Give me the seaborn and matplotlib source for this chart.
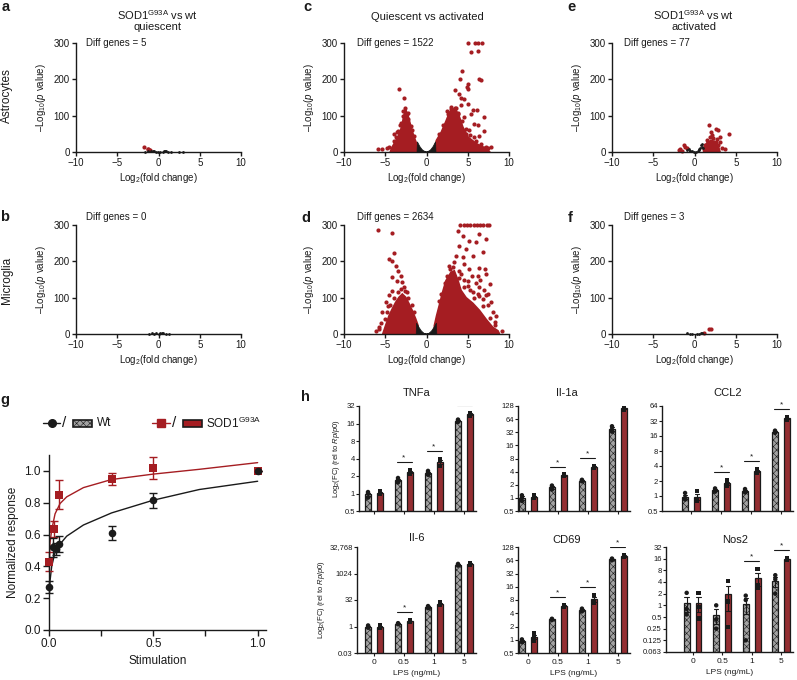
import numpy as np
import pandas as pd
import matplotlib
import matplotlib.pyplot as plt
import seaborn as sns
from matplotlib.lines import Line2D
from matplotlib.patches import Rectangle
from matplotlib.ticker import NullLocator

matplotlib.use('Agg')

# ---------------- volcano data ----------------
# a: astrocytes, SOD1 vs wt, quiescent
a_red_x = [-1.8, -1.25, -1.15, -1.05, -1.3]
a_red_y = [13, 7, 6, 5, 8]
a_blk_x = [-1.6, -1.3, -0.9, -0.7, -0.5, -0.3, -0.1, 0.2, 0.5, 0.7, 0.8, 0.9, 1.1, 1.5, 2.5, 3.0]
a_blk_y = [0.5, 2, 3, 2, 1.5, 1, 0.5, 0.5, 1, 2, 3, 2.5, 1, 0.5, 0.3, 0.2]

# b: microglia, SOD1 vs wt, quiescent
b_blk_x = [-1.2, -0.8, -0.6, -0.3, 0.0, 0.2, 0.4, 0.6, 0.9, 1.3]
b_blk_y = [0.5, 2, 1, 1.5, 1, 3, 4, 2, 1, 0.5]

# c: astrocytes, quiescent vs activated
c_lcore_x = [-4.4, -4.2, -3.8, -3.4, -3.0, -2.75, -2.55, -2.3, -2.0, -1.7, -1.4, -1.1, -1.0, -1.0]
c_lcore_y = [0, 12, 28, 45, 70, 100, 118, 105, 80, 55, 35, 18, 8, 0]
c_rcore_x = [1.0, 1.0, 1.2, 1.8, 2.4, 2.8, 3.2, 3.6, 4.0, 4.4, 5.05, 6.06, 7.27, 7.7]
c_rcore_y = [0, 12, 32, 55, 87, 110, 119, 115, 96, 69, 41, 23, 9, 0]
c_v_x = [-1.15, -1.1, -0.8, -0.5, -0.2, 0.0, 0.2, 0.5, 0.8, 1.1, 1.15]
c_v_y = [0, 28, 15, 6, 1.5, 0, 1.5, 6, 15, 28, 0]
c_red_x = [-3.35, -2.75, -2.6, -2.85, -2.4, -3.96, -4.6, -5.4, -5.86, -3.5, -1.9, -2.2, -3.1, -3.7,
           -3.2, -3.6, -4.0, -2.9, -2.2, -1.8, -1.5, -4.8,
           5.05, 5.86, 6.26, 6.67, 5.45, 6.26, 4.36, 4.04, 6.34, 6.59, 5.05, 4.85, 4.97, 3.43, 3.92,
           4.2, 4.6, 4.2, 5.0, 3.6, 5.6, 6.1, 5.4, 7.0, 4.5, 5.8, 6.3, 7.0, 5.2, 4.8, 6.4, 5.7,
           7.5, 7.8, 7.0, 3.0, 2.5, 3.8,
           2.0, 2.6, 3.0, 3.4, 3.8, 4.3, 4.8, 5.3, 6.0, 6.6, 7.2, 1.5]
c_red_y = [174, 149, 122, 112, 104, 49, 14, 9, 7, 58, 72, 108, 80, 40,
           75, 55, 30, 100, 90, 60, 45, 10,
           300, 300, 300, 300, 275, 278, 222, 202, 200, 197, 188, 179, 174, 170, 160,
           150, 146, 128, 132, 120, 115, 115, 105, 97, 95, 78, 75, 57, 60, 50, 45, 40,
           12, 14, 10, 125, 112, 105,
           75, 105, 118, 122, 108, 85, 62, 48, 30, 22, 15, 50]

# d: microglia, quiescent vs activated
d_lcore_x = [-5.3, -4.96, -4.55, -4.15, -3.74, -3.33, -2.93, -2.52, -2.11, -1.71, -1.3, -1.02, -1.0]
d_lcore_y = [0, 23, 50, 69, 87, 101, 110, 101, 83, 64, 41, 23, 0]
d_rcore_x = [0.95, 0.95, 1.22, 1.54, 1.95, 2.36, 2.97, 3.37, 3.78, 4.19, 4.8, 5.6, 6.42, 7.24, 8.05, 8.66, 8.86]
d_rcore_y = [0, 23, 50, 78, 115, 147, 170, 174, 150, 120, 100, 85, 65, 40, 18, 9, 0]
d_v_x = [-1.25, -1.2, -0.9, -0.6, -0.3, 0.0, 0.3, 0.6, 0.9, 1.2, 1.25]
d_v_y = [0, 30, 18, 8, 2, 0, 2, 8, 18, 30, 0]
d_red_x = [-5.85, -4.15, -3.94, -4.55, -4.15, -3.74, -3.41, -3.13, -4.23, -3.54, -2.93, -4.55,
           -4.96, -5.37, -4.15, -2.72, -2.32, -5.77, -6.18, -4.63,
           -5.0, -4.8, -4.4, -3.9, -3.5, -3.1, -2.6, -2.2, -1.8, -1.5, -5.5, -5.8,
           4.1, 4.5, 4.9, 5.3, 5.7, 6.1, 6.5, 6.9, 7.3, 7.6,
           3.78, 4.39, 6.42, 7.24, 5.2, 3.98, 6.02, 4.8, 6.83, 4.39, 5.61, 3.37, 6.42, 7.11,
           5.2, 3.98, 6.22, 7.24, 2.76, 7.64, 5.0, 6.42, 5.61, 7.24, 7.85, 6.83, 8.46, 8.25,
           9.19, 6.4, 3.58, 4.6,
           4.5, 5.0, 5.5, 6.0, 6.5, 7.0, 7.5, 4.2, 3.9, 5.3, 6.2, 6.8, 7.4, 8.0, 7.7, 8.3,
           5.8, 4.6, 3.2, 2.8, 2.5, 2.2, 1.8, 1.5]
d_red_y = [285, 278, 223, 206, 202, 188, 174, 161, 156, 147, 142, 106,
           87, 60, 119, 128, 115, 14, 9, 78,
           40, 60, 80, 100, 115, 125, 118, 100, 80, 60, 30, 20,
           300, 300, 300, 300, 300, 300, 300, 300, 300, 300,
           284, 271, 275, 261, 257, 243, 252, 234, 225, 211, 216, 197, 183, 179,
           179, 174, 161, 165, 188, 138, 133, 128, 115, 106, 87, 78, 50, 32,
           9, 105, 216, 193,
           150, 145, 160, 140, 150, 120, 110, 165, 155, 120, 110, 95, 80, 60, 45, 25,
           100, 130, 185, 178, 160, 140, 110, 90]

# e: astrocytes, SOD1 vs wt, activated
e_core_x = [1.1, 1.2, 1.5, 1.9, 2.4, 2.8, 3.0, 3.1]
e_core_y = [0, 15, 25, 30, 30, 22, 8, 0]
e_red_x = [1.74, 2.55, 2.87, 4.24, 1.94, 2.14, 3.07, 3.15, 3.64, 2.7, 2.3, 1.5, 1.3, 1.6, 2.0,
           2.4, 2.9, 1.8, 2.2, 1.2, 1.4, 3.3, -1.1, -1.3, -1.7, -1.9, -0.9, -1.5, 2.6, 1.9]
e_red_y = [75, 64, 60, 50, 55, 46, 41, 28, 7, 35, 38, 32, 20, 25, 30,
           22, 18, 12, 15, 8, 5, 12, 14, 18, 7, 5, 10, 4, 28, 40]
e_blk_x = [-0.9, -0.7, -0.5, -0.3, -0.1, 0.2, 0.4, 0.6, 0.7, 0.8, 0.9, 1.0, 0.5, 0.85, -0.6]
e_blk_y = [5, 8, 4, 2, 0.5, 1, 4, 8, 12, 18, 22, 10, 6, 14, 3]

# f: microglia, SOD1 vs wt, activated
f_red_x = [1.7, 1.95, 1.1]
f_red_y = [14, 13, 4]
f_blk_x = [-0.9, -0.6, -0.3, 0.3, 0.6, 0.9, 0.8]
f_blk_y = [2, 1, 0.5, 0.5, 1, 3, 2]

# ---------------- panel g data ----------------
g_x_wt = [0, 0.02, 0.035, 0.05, 0.3, 0.5, 1.0]
g_y_wt = [0.27, 0.52, 0.51, 0.54, 0.61, 0.815, 1.0]
g_err_wt = [0.035, 0.06, 0.04, 0.05, 0.045, 0.045, 0.0]
g_x_sod = [0, 0.025, 0.05, 0.3, 0.5, 1.0]
g_y_sod = [0.43, 0.635, 0.85, 0.95, 1.02, 1.0]
g_err_sod = [0.06, 0.05, 0.09, 0.04, 0.07, 0.0]
fit_x = [0.001, 0.005, 0.013, 0.029, 0.053, 0.085, 0.165, 0.3, 0.5, 0.72, 1.0]
fit_sod = [0.42, 0.55, 0.63, 0.73, 0.795, 0.837, 0.895, 0.946, 0.98, 1.01, 1.052]
fit_wt = [0.22, 0.31, 0.40, 0.49, 0.54, 0.59, 0.66, 0.736, 0.816, 0.883, 0.935]

# ---------------- panel h data (3 replicates per LPS dose) ----------------
LPS = ['0', '0.5', '1', '5']
GENO = ['Wt', 'SOD1']
tnfa_wt = [[0.85, 1.0, 1.06], [1.55, 1.7, 1.85], [2.1, 2.3, 2.45], [17, 18, 18.7]]
tnfa_sod = [[0.98, 1.04, 1.1], [2.2, 2.4, 2.55], [3.0, 3.6, 3.9], [21.5, 23, 24.5]]
il1a_wt = [[0.85, 1.0, 1.15], [1.55, 1.75, 1.92], [2.4, 2.5, 2.6], [33, 37, 44]]
il1a_sod = [[1.0, 1.05, 1.13], [3.2, 3.3, 3.4], [5.0, 5.2, 5.4], [105, 113, 121]]
ccl2_wt = [[0.85, 0.92, 1.15], [1.22, 1.32, 1.42], [1.18, 1.28, 1.38], [18.5, 19.5, 20.5]]
ccl2_sod = [[0.8, 0.88, 1.25], [1.6, 1.75, 2.05], [2.9, 3.2, 3.5], [34, 36, 38]]
il6_wt = [[0.85, 1.0, 1.15], [1.35, 1.45, 1.55], [11, 12.8, 14.5], [2900, 3250, 3600]]
il6_sod = [[0.85, 1.0, 1.15], [1.9, 2.05, 2.2], [17, 20, 23], [3400, 3700, 4000]]
cd69_wt = [[0.88, 0.95, 1.02], [2.8, 2.9, 3.0], [4.4, 4.8, 5.1], [64, 67, 70]]
cd69_sod = [[0.95, 1.1, 1.4], [5.6, 5.9, 6.2], [6.9, 7.6, 10.4], [76, 80, 84]]
nos2_wt = [[2.1, 0.58, 0.8], [1.0, 0.43, 0.25], [1.78, 1.37, 0.125], [6.0, 4.7, 2.0]]
nos2_sod = [[2.1, 0.92, 0.46], [4.3, 1.24, 0.28], [8.6, 3.4, 2.9], [15.6, 15, 16.5]]
tnfa_sig = [False, True, True, True]
il1a_sig = [False, True, True, True]
ccl2_sig = [False, True, True, True]
il6_sig = [False, True, False, False]
cd69_sig = [False, True, True, True]
nos2_sig = [False, False, True, True]

# ---------------- style ----------------
sns.set_theme(style='ticks', rc={'axes.edgecolor': 'k', 'xtick.color': 'k', 'ytick.color': 'k',
                                 'text.color': 'k', 'axes.labelcolor': 'k'})
plt.rcParams['font.family'] = ['Liberation Sans', 'DejaVu Sans']
plt.rcParams.update({'mathtext.fontset': 'custom', 'mathtext.rm': 'Liberation Sans',
                     'mathtext.it': 'Liberation Sans:italic', 'mathtext.default': 'regular',
                     'axes.linewidth': 1.0, 'xtick.major.width': 1.0, 'ytick.major.width': 1.0,
                     'hatch.linewidth': 0.4})

RED = '#a51d22'
GRAY = '#a3a3a3'
W, H = 797, 680
fig = plt.figure(figsize=(7.97, 6.8), dpi=100)


def px_axes(left, top, right, bottom):
    return fig.add_axes([left / W, 1 - bottom / H, (right - left) / W, (bottom - top) / H])


def ftext(x, y, s, **kw):
    return fig.text(x / W, 1 - y / H, s, **kw)


def volcano(left, top, n_diff, red_x=(), red_y=(), blk_x=(), blk_y=(), cores=(), vshape=None,
            text_x=0.06, text_y=1.0):
    ax = px_axes(left, top, left + 165, top + 109)
    for cx, cy in cores:
        ax.fill(cx, cy, color=RED, lw=1.2, zorder=1)
    if len(red_x):
        sns.scatterplot(x=list(red_x), y=list(red_y), color=RED, s=9, linewidth=0, ax=ax,
                        clip_on=False, zorder=2)
    if vshape is not None:
        ax.fill(vshape[0], vshape[1], color='k', lw=0.5, zorder=3)
    if len(blk_x):
        sns.scatterplot(x=list(blk_x), y=list(blk_y), color='k', s=4, linewidth=0, ax=ax,
                        clip_on=False, zorder=3)
    ax.set_xlim(-10, 10)
    ax.set_ylim(0, 300)
    ax.set_xticks([-10, -5, 0, 5, 10])
    ax.set_yticks([0, 100, 200, 300])
    ax.tick_params(labelsize=7, length=3, pad=1.5)
    ax.set_xlabel('Log$_2$(fold change)', fontsize=7, labelpad=2)
    ax.set_ylabel('\u2013Log$_{10}$($\\it{p}$ value)', fontsize=7, labelpad=4)
    sns.despine(ax=ax)
    ax.text(text_x, text_y, f'Diff genes = {n_diff}', transform=ax.transAxes, fontsize=7,
            va='center', ha='left')
    return ax


# ---------------- volcano panels ----------------
volcano(76, 43, 5, a_red_x, a_red_y, a_blk_x, a_blk_y)
volcano(344, 43, 1522, c_red_x, c_red_y, cores=[(c_lcore_x, c_lcore_y), (c_rcore_x, c_rcore_y)],
        vshape=(c_v_x, c_v_y), text_x=0.08)
volcano(612, 43, 77, e_red_x, e_red_y, e_blk_x, e_blk_y, cores=[(e_core_x, e_core_y)], text_x=0.07)
volcano(76, 225, 0, blk_x=b_blk_x, blk_y=b_blk_y, text_y=1.07)
volcano(344, 225, 2634, d_red_x, d_red_y, cores=[(d_lcore_x, d_lcore_y), (d_rcore_x, d_rcore_y)],
        vshape=(d_v_x, d_v_y), text_x=0.08, text_y=1.07)
volcano(612, 225, 3, f_red_x, f_red_y, f_blk_x, f_blk_y, text_x=0.07, text_y=1.07)

ftext(158, 20, 'SOD1$^{G93A}$ vs wt\nquiescent', fontsize=8, ha='center', va='center', linespacing=1.1)
ftext(427, 17, 'Quiescent vs activated', fontsize=8, ha='center', va='center')
ftext(694, 20, 'SOD1$^{G93A}$ vs wt\nactivated', fontsize=8, ha='center', va='center', linespacing=1.1)
ftext(7, 96, 'Astrocytes', fontsize=8.5, rotation=90, ha='center', va='center')
ftext(7, 280, 'Microglia', fontsize=8.5, rotation=90, ha='center', va='center')

for lab, (x, y) in {'a': (6, 7), 'b': (5, 217), 'c': (307, 7), 'd': (306, 218), 'e': (571, 7),
                    'f': (570, 218), 'g': (5, 400), 'h': (305, 397)}.items():
    ftext(x, y, lab, fontsize=10.5, fontweight='bold', ha='center', va='center')

# ---------------- panel g ----------------
axg = px_axes(49, 455, 266, 630)
sns.lineplot(x=fit_x, y=fit_sod, color=RED, lw=1, ax=axg)
sns.lineplot(x=fit_x, y=fit_wt, color='k', lw=1, ax=axg)
axg.errorbar(g_x_sod, g_y_sod, yerr=g_err_sod, fmt='none', ecolor=RED, elinewidth=1, capsize=3,
             capthick=1, clip_on=False)
axg.errorbar(g_x_wt, g_y_wt, yerr=g_err_wt, fmt='none', ecolor='k', elinewidth=1, capsize=3,
             capthick=1, clip_on=False)
sns.scatterplot(x=g_x_sod, y=g_y_sod, marker='s', color=RED, s=30, linewidth=0, ax=axg,
                clip_on=False, zorder=5)
sns.scatterplot(x=g_x_wt, y=g_y_wt, marker='o', color='k', s=30, linewidth=0, ax=axg,
                clip_on=False, zorder=6)
axg.set_xlim(0, 1.04)
axg.set_ylim(0, 1.1)
axg.set_xticks([0, 0.5, 1.0])
axg.set_xticklabels(['0.0', '0.5', '1.0'])
axg.set_xticks([0.25, 0.75], minor=True)
axg.set_yticks([0, 0.2, 0.4, 0.6, 0.8, 1.0])
axg.set_yticklabels(['0.0', '0.2', '0.4', '0.6', '0.8', '1.0'])
axg.tick_params(labelsize=8.5, length=4, pad=2)
axg.tick_params(which='minor', length=4, width=1.0)
axg.set_xlabel('Stimulation', fontsize=8.5, labelpad=3)
axg.set_ylabel('Normalized response', fontsize=8.5, labelpad=4)
sns.despine(ax=axg)

# legend of g, drawn in figure pixels
def fx(px):
    return px / W


def fy(py):
    return 1 - py / H


fig.add_artist(Line2D([fx(43), fx(60)], [fy(423)] * 2, color='k', lw=1))
fig.add_artist(Line2D([fx(52)], [fy(423)], marker='o', color='k', ms=5.5, lw=0))
ftext(64, 423, '/', fontsize=11, ha='center', va='center')
fig.add_artist(Rectangle((fx(73), fy(427)), fx(92) - fx(73), fy(420) - fy(427), transform=fig.transFigure,
                         facecolor=GRAY, edgecolor='k', hatch='xxxxx', lw=1.2))
ftext(97, 423, 'Wt', fontsize=8.5, ha='left', va='center')
fig.add_artist(Line2D([fx(152), fx(170)], [fy(423)] * 2, color=RED, lw=1))
fig.add_artist(Line2D([fx(161)], [fy(423)], marker='s', color=RED, ms=5.5, lw=0))
ftext(174, 423, '/', fontsize=11, ha='center', va='center')
fig.add_artist(Rectangle((fx(183), fy(427)), fx(202) - fx(183), fy(420) - fy(427), transform=fig.transFigure,
                         facecolor=RED, edgecolor='k', lw=1.2))
ftext(206, 423, 'SOD1$^{G93A}$', fontsize=8.5, ha='left', va='center')

# ---------------- panel h ----------------
PAL = {'Wt': GRAY, 'SOD1': RED}


def bar_panel(title, wt, sod, sig, box, xlo, ylims, yticks, yticklabels, bottom_row, first_col, title_xy):
    left, top, right, bottom = box
    ax = px_axes(left, top, right, bottom)
    rows = []
    for i, dose in enumerate(LPS):
        rows += [(dose, 'Wt', v) for v in wt[i]]
        rows += [(dose, 'SOD1', v) for v in sod[i]]
    df = pd.DataFrame(rows, columns=['lps', 'geno', 'val'])
    sns.barplot(data=df, x='lps', y='val', hue='geno', order=LPS, hue_order=GENO, palette=PAL,
                errorbar='se', capsize=0.3, err_kws={'linewidth': 0.8, 'color': 'k'}, width=0.8,
                gap=0.5, edgecolor='k', linewidth=0.9, legend=False, ax=ax)
    gray_rgb = np.array(matplotlib.colors.to_rgb(GRAY))
    for p in ax.patches:
        if np.allclose(np.array(p.get_facecolor()[:3]), gray_rgb, atol=0.02):
            p.set_hatch('xxxxx')
    for g, mk in zip(GENO, ['o', 's']):
        sns.stripplot(data=df[df.geno == g], x='lps', y='val', hue='geno', order=LPS, hue_order=GENO,
                      dodge=True, jitter=False, marker=mk, palette={'Wt': 'k', 'SOD1': 'k'}, size=3.2,
                      linewidth=0, legend=False, ax=ax, zorder=4)
    ax.set_yscale('log', base=2)
    ax.set_ylim(*ylims)
    ax.set_yticks(yticks)
    ax.set_yticklabels(yticklabels)
    ax.yaxis.set_minor_locator(NullLocator())
    ax.set_xlim(xlo, 3.4)
    # significance bars, a fixed pixel distance above the highest replicate
    span = np.log2(ylims[1]) - np.log2(ylims[0])
    step = 8 / ((bottom - top) / span)
    for i, s in enumerate(sig):
        if s:
            yl = 2 ** (np.log2(max(max(wt[i]), max(sod[i]))) + step)
            ax.plot([i - 0.25, i + 0.25], [yl, yl], color='k', lw=0.8)
            ax.annotate('*', (i, yl), xytext=(0, 0.5), textcoords='offset points', ha='center',
                        va='bottom', fontsize=6)
    ax.tick_params(axis='y', labelsize=5.5, length=2, width=0.8, pad=1)
    ax.tick_params(axis='x', labelsize=6, length=2, width=0.8, pad=2)
    if bottom_row:
        ax.set_xlabel('LPS (ng/mL)', fontsize=6, labelpad=3)
    else:
        ax.set_xlabel('')
        ax.tick_params(axis='x', labelbottom=False)
    if first_col:
        ax.set_ylabel('Log$_2$(FC) (rel to $\\it{Rplp0}$)', fontsize=5.5, labelpad=2)
    else:
        ax.set_ylabel('')
    sns.despine(ax=ax)
    ftext(title_xy[0], title_xy[1], title, fontsize=8, ha='center', va='center')
    return ax


b8 = [0.5, 1, 2, 4, 8, 16, 32, 64, 128]
bar_panel('TNFa', tnfa_wt, tnfa_sod, tnfa_sig, (359, 406, 476, 511), -0.5, (0.5, 32),
          b8[:7], [str(v) for v in b8[:7]], False, True, (417, 393))
bar_panel('Il-1a', il1a_wt, il1a_sod, il1a_sig, (518, 406, 630, 511), -0.33, (0.5, 128),
          b8, [str(v) for v in b8], False, False, (567, 393))
bar_panel('CCL2', ccl2_wt, ccl2_sod, ccl2_sig, (662, 406, 793, 511), -0.97, (0.5, 64),
          b8[:8], [str(v) for v in b8[:8]], False, False, (728, 393))
bar_panel('Il-6', il6_wt, il6_sod, il6_sig, (357, 547, 476, 653), -0.57, (2 ** -5, 2 ** 15),
          [2 ** -5, 1, 32, 1024, 32768], ['0.03', '1', '32', '1024', '32,768'], True, True, (417, 538))
bar_panel('CD69', cd69_wt, cd69_sod, cd69_sig, (518, 547, 630, 653), -0.33, (0.5, 128),
          b8, [str(v) for v in b8], True, False, (567, 540))
nos_t = [0.0625, 0.125, 0.25, 0.5, 1, 2, 4, 8, 16, 32]
bar_panel('Nos2', nos2_wt, nos2_sod, nos2_sig, (666, 547, 793, 652), -0.9, (0.0625, 32),
          nos_t, ['0.063', '0.125', '0.25', '0.5', '1', '2', '4', '8', '16', '32'], True, False, (735, 540))

plt.savefig('out.png', dpi=100)
